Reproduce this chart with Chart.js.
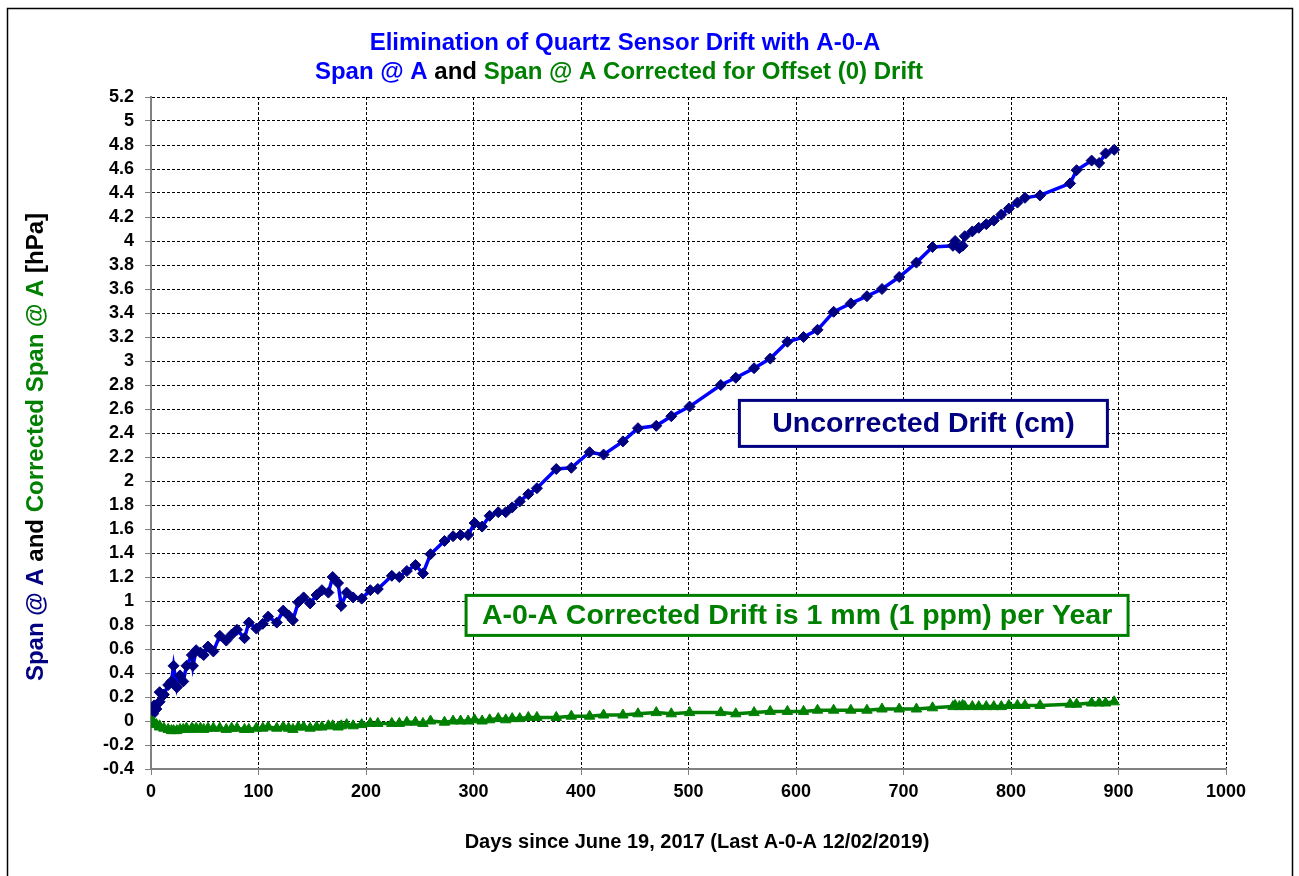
<!DOCTYPE html>
<html>
<head>
<meta charset="utf-8">
<script src="https://cdn.jsdelivr.net/npm/chart.js@4.4.1/dist/chart.umd.min.js"></script>
<style>
  html, body { margin: 0; padding: 0; background: #fff; }
  canvas { display: block; }
</style>
</head>
<body>
<canvas id="driftChart" width="1299" height="876"></canvas>
<script>
// days since June 19, 2017
const days = [0, 2, 3, 5, 8, 8, 12, 16, 19, 21, 24, 27, 30, 33, 38, 39, 42, 46, 49, 53,
  58, 64, 70, 75, 80, 87, 91, 98, 104, 109, 117, 123, 128, 132, 137, 142, 148, 154, 159, 165,
  169, 174, 177, 182, 188, 196, 204, 211, 224, 231, 238, 246, 253, 260, 273, 281, 288, 295, 301, 308,
  315, 323, 330, 336, 343, 351, 359, 377, 391, 408, 421, 439, 453, 470, 484, 501, 530, 544, 561, 576,
  592, 607, 620, 635, 651, 666, 680, 696, 712, 727, 746, 748, 752, 755, 757, 764, 770, 777, 784, 791,
  798, 806, 813, 827, 855, 861, 875, 882, 888, 896];

// Span @ A (uncorrected), hPa
const spanA = [0.00, 0.06, 0.13, 0.10, 0.16, 0.24, 0.22, 0.30, 0.33, 0.46, 0.28, 0.38, 0.33, 0.46, 0.55, 0.46, 0.59, 0.57, 0.55, 0.62,
  0.58, 0.71, 0.67, 0.72, 0.76, 0.69, 0.82, 0.77, 0.81, 0.87, 0.82, 0.92, 0.88, 0.84, 0.99, 1.03, 0.98, 1.05, 1.09, 1.07,
  1.20, 1.15, 0.96, 1.07, 1.03, 1.02, 1.09, 1.10, 1.21, 1.20, 1.25, 1.30, 1.23, 1.39, 1.50, 1.54, 1.55, 1.55, 1.65, 1.62,
  1.71, 1.74, 1.74, 1.78, 1.83, 1.89, 1.94, 2.10, 2.11, 2.24, 2.22, 2.33, 2.44, 2.46, 2.54, 2.62, 2.80, 2.86, 2.94, 3.02,
  3.16, 3.20, 3.26, 3.41, 3.48, 3.54, 3.60, 3.70, 3.82, 3.95, 3.96, 4.00, 3.94, 3.96, 4.04, 4.08, 4.11, 4.14, 4.17, 4.22,
  4.27, 4.32, 4.36, 4.38, 4.48, 4.59, 4.67, 4.65, 4.73, 4.76];

// Span @ A corrected for offset (0) drift, hPa
const spanCorrected = [0.00, -0.01, -0.02, -0.03, -0.04, -0.05, -0.06, -0.07, -0.08, -0.08, -0.08, -0.07, -0.07, -0.06, -0.06, -0.07, -0.06, -0.06, -0.07, -0.06,
  -0.06, -0.06, -0.07, -0.06, -0.06, -0.07, -0.07, -0.06, -0.06, -0.05, -0.06, -0.05, -0.06, -0.07, -0.05, -0.05, -0.06, -0.05, -0.05, -0.04,
  -0.04, -0.05, -0.04, -0.03, -0.04, -0.03, -0.02, -0.02, -0.02, -0.02, -0.01, -0.01, -0.02, 0.00, -0.01, 0.00, 0.00, 0.00, 0.01, 0.00,
  0.01, 0.02, 0.01, 0.02, 0.02, 0.03, 0.03, 0.03, 0.04, 0.04, 0.05, 0.05, 0.06, 0.07, 0.06, 0.07, 0.07, 0.06, 0.07, 0.08,
  0.08, 0.08, 0.09, 0.09, 0.09, 0.09, 0.10, 0.10, 0.10, 0.11, 0.12, 0.13, 0.12, 0.13, 0.12, 0.12, 0.12, 0.12, 0.12, 0.12,
  0.13, 0.13, 0.13, 0.13, 0.14, 0.14, 0.15, 0.15, 0.15, 0.16];

const xTickValues = [0, 100, 200, 300, 400, 500, 600, 700, 800, 900, 1000];
const yTickValues = [-0.4, -0.2, 0, 0.2, 0.4, 0.6, 0.8, 1, 1.2, 1.4, 1.6, 1.8, 2, 2.2, 2.4, 2.6, 2.8,
  3, 3.2, 3.4, 3.6, 3.8, 4, 4.2, 4.4, 4.6, 4.8, 5, 5.2];

const FONT = '"Liberation Sans", Arial, sans-serif';
const BLUE = '#0000ff';
const NAVY = '#000080';
const GREEN = '#008000';

const titleLine1 = [{ t: 'Elimination of Quartz Sensor Drift with A-0-A', c: BLUE }];
const titleLine2 = [
  { t: 'Span @ A ', c: BLUE },
  { t: 'and ', c: '#000' },
  { t: 'Span @ A Corrected for Offset (0) Drift', c: GREEN }
];
const yTitle = [
  { t: 'Span @ A ', c: NAVY },
  { t: 'and ', c: '#000' },
  { t: 'Corrected Span @ A ', c: GREEN },
  { t: '[hPa]', c: '#000' }
];

function drawRuns(ctx, runs, cx, cy, font) {
  ctx.font = font;
  ctx.textBaseline = 'middle';
  ctx.textAlign = 'left';
  let total = 0;
  runs.forEach(r => total += ctx.measureText(r.t).width);
  let x = cx - total / 2;
  runs.forEach(r => {
    ctx.fillStyle = r.c;
    ctx.fillText(r.t, x, cy);
    x += ctx.measureText(r.t).width;
  });
}

function drawBox(ctx, xs, ys, day, val, w, h, color, text) {
  const cx = xs.getPixelForValue(day);
  const cy = ys.getPixelForValue(val);
  ctx.fillStyle = '#fff';
  ctx.fillRect(cx - w / 2, cy - h / 2, w, h);
  ctx.strokeStyle = color;
  ctx.lineWidth = 3;
  ctx.strokeRect(cx - w / 2, cy - h / 2, w, h);
  drawRuns(ctx, [{ t: text, c: color }], cx, cy + 1, 'bold 28.5px ' + FONT);
}

const decorations = {
  id: 'decorations',
  beforeDraw(chart) {
    const ctx = chart.ctx;
    ctx.save();
    ctx.fillStyle = '#fff';
    ctx.fillRect(0, 0, chart.width, chart.height);
    ctx.restore();
  },
  afterDraw(chart) {
    const ctx = chart.ctx;
    const xs = chart.scales.x, ys = chart.scales.y;
    ctx.save();
    ctx.strokeStyle = '#000';
    ctx.lineWidth = 1.5;
    ctx.strokeRect(7.5, 8.5, 1285, 880);

    drawRuns(ctx, titleLine1, 625, 43, 'bold 24px ' + FONT);
    drawRuns(ctx, titleLine2, 619, 72, 'bold 24px ' + FONT);
    drawRuns(ctx, [{ t: 'Days since June 19, 2017 (Last A-0-A 12/02/2019)', c: '#000' }], 697, 842, 'bold 20px ' + FONT);

    ctx.save();
    ctx.translate(36, 447);
    ctx.rotate(-Math.PI / 2);
    drawRuns(ctx, yTitle, 0, 0, 'bold 24px ' + FONT);
    ctx.restore();

    drawBox(ctx, xs, ys, 718.5, 2.48, 368, 46, NAVY, 'Uncorrected Drift (cm)');
    drawBox(ctx, xs, ys, 601, 0.88, 662, 40, GREEN, 'A-0-A Corrected Drift is 1 mm (1 ppm) per Year');
    ctx.restore();
  }
};

new Chart(document.getElementById('driftChart'), {
  type: 'line',
  data: {
    datasets: [
      {
        label: 'Corrected Span @ A',
        data: days.map((d, i) => ({ x: d, y: spanCorrected[i] })),
        borderColor: GREEN,
        backgroundColor: GREEN,
        borderWidth: 3.5,
        pointStyle: 'triangle',
        pointRadius: 6,
        pointBorderWidth: 1,
        pointBorderColor: GREEN,
        tension: 0
      },
      {
        label: 'Span @ A',
        data: days.map((d, i) => ({ x: d, y: spanA[i] })),
        borderColor: BLUE,
        backgroundColor: NAVY,
        borderWidth: 3.5,
        pointStyle: 'rectRot',
        pointRadius: 5.5,
        pointBorderWidth: 1,
        pointBorderColor: NAVY,
        tension: 0
      }
    ]
  },
  options: {
    responsive: false,
    animation: false,
    devicePixelRatio: 1,
    layout: { padding: { top: 97, right: 73, bottom: 0, left: 0 } },
    plugins: {
      legend: { display: false },
      tooltip: { enabled: false },
      title: { display: false }
    },
    scales: {
      x: {
        type: 'linear',
        min: 0,
        max: 1000,
        afterBuildTicks: s => { s.ticks = xTickValues.map(v => ({ value: v })); },
        afterFit: s => { s.height = 107; },
        ticks: {
          autoSkip: false,
          maxRotation: 0,
          padding: 6,
          color: '#000',
          font: { family: FONT, size: 18, weight: 'bold' },
          callback: v => String(v)
        },
        grid: { color: '#000', lineWidth: 1, tickLength: 6, tickColor: '#808080', tickBorderDash: [] },
        border: { display: true, color: '#808080', width: 2, dash: [3, 2] }
      },
      y: {
        type: 'linear',
        min: -0.4,
        max: 5.2,
        afterBuildTicks: s => { s.ticks = yTickValues.map(v => ({ value: v })); },
        afterFit: s => { s.width = 151; },
        ticks: {
          autoSkip: false,
          padding: 11,
          color: '#000',
          font: { family: FONT, size: 18, weight: 'bold' },
          callback: v => String(+v.toFixed(1))
        },
        grid: { color: '#000', lineWidth: 1, tickLength: 6, tickColor: '#808080', tickBorderDash: [] },
        border: { display: true, color: '#808080', width: 2, dash: [3, 2] }
      }
    }
  },
  plugins: [decorations]
});
</script>
</body>
</html>
